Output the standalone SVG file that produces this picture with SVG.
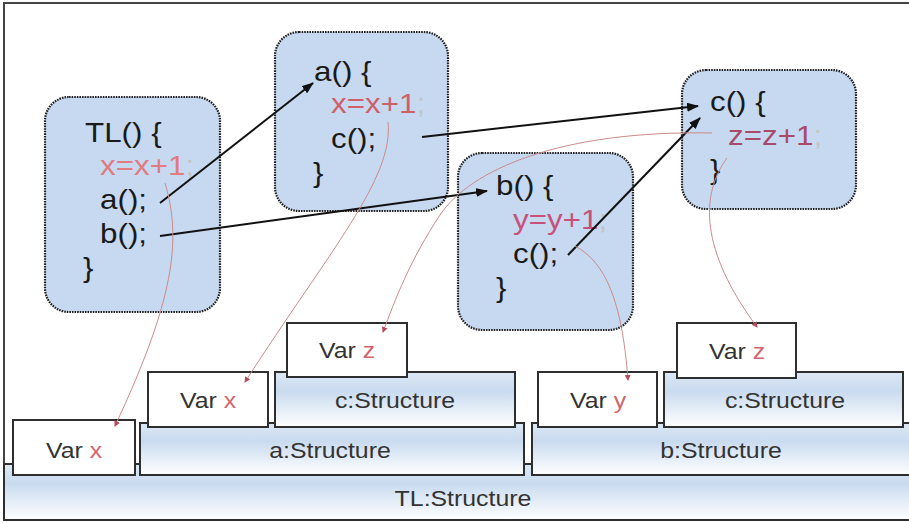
<svg xmlns="http://www.w3.org/2000/svg" width="909" height="523" viewBox="0 0 909 523">
<style>
.fn{fill:#c6d9f1;stroke:#222;stroke-width:2.2;stroke-dasharray:1.6 1}
.code{font-family:"Liberation Sans",Arial,sans-serif;font-size:28px;fill:#1a1a1a}
.red{fill:#d06068}
.semi{fill:#c4c4c4}
.lbl{font-family:"Liberation Sans",Arial,sans-serif;font-size:22px;fill:#333;text-anchor:middle}
.rv{fill:#d2646e}
.st{fill:url(#g);stroke:#2e2e2e;stroke-width:2}
.var{fill:#fff;stroke:#2e2e2e;stroke-width:2}
.blk{fill:none;stroke:#111;stroke-width:2;marker-end:url(#ab)}
.rd{fill:none;stroke:#cc8a8a;stroke-width:1;marker-end:url(#ar)}
</style>
<defs>
<linearGradient id="g" x1="0" y1="0" x2="0" y2="1">
<stop offset="0" stop-color="#dce8f5"/>
<stop offset="0.35" stop-color="#c9dbef"/>
<stop offset="1" stop-color="#ffffff"/>
</linearGradient>
<marker id="ab" markerUnits="userSpaceOnUse" markerWidth="12" markerHeight="9" refX="11" refY="4.5" orient="auto"><path d="M0,0 L12,4.5 L0,9 z" fill="#111"/></marker>
<marker id="ar" markerUnits="userSpaceOnUse" markerWidth="6" markerHeight="6" refX="5" refY="3" orient="auto"><path d="M0,0 L6,3 L0,6 z" fill="#b84a5a"/></marker>
</defs>
<rect x="0" y="0" width="909" height="523" fill="#fff"/>
<path d="M909,3 H4 V520 H909" fill="none" stroke="#444" stroke-width="2"/>

<g id="structures">
<g id="tl-structure">
<rect class="st" x="4" y="464" width="910" height="56"/>
<text class="lbl" transform="translate(463,506) scale(1.13,1)">TL:Structure</text>
</g>
<g id="tl-var-x">
<rect class="var" x="13" y="420" width="122" height="55"/>
<text class="lbl" transform="translate(74,458) scale(1.13,1)">Var <tspan class="rv">x</tspan></text>
</g>
<g id="a-structure">
<rect class="st" x="140" y="423" width="384" height="52"/>
<text class="lbl" transform="translate(330,458) scale(1.13,1)">a:Structure</text>
</g>
<g id="b-structure">
<rect class="st" x="532" y="423" width="382" height="52"/>
<text class="lbl" transform="translate(721,458) scale(1.13,1)">b:Structure</text>
</g>
<g id="a-var-x">
<rect class="var" x="148" y="372" width="120" height="55"/>
<text class="lbl" transform="translate(208,408) scale(1.13,1)">Var <tspan class="rv">x</tspan></text>
</g>
<g id="ac-structure">
<rect class="st" x="275" y="372" width="240" height="55"/>
<text class="lbl" transform="translate(395,408) scale(1.13,1)">c:Structure</text>
</g>
<g id="ac-var-z">
<rect class="var" x="287" y="323" width="120" height="54"/>
<text class="lbl" transform="translate(347,358) scale(1.13,1)">Var <tspan class="rv">z</tspan></text>
</g>
<g id="b-var-y">
<rect class="var" x="538" y="372" width="119" height="55"/>
<text class="lbl" transform="translate(598,408) scale(1.13,1)">Var <tspan class="rv">y</tspan></text>
</g>
<g id="bc-structure">
<rect class="st" x="664" y="372" width="239" height="55"/>
<text class="lbl" transform="translate(785,408) scale(1.13,1)">c:Structure</text>
</g>
<g id="bc-var-z">
<rect class="var" x="677" y="323" width="119" height="55"/>
<text class="lbl" transform="translate(737,359) scale(1.13,1)">Var <tspan class="rv">z</tspan></text>
</g>
</g>

<g id="fn-TL">
<rect class="fn" x="45" y="97" width="175" height="215" rx="24"/>
<text class="code" transform="translate(85,142) scale(1.12,1)">TL() {</text>
<text class="code" transform="translate(100,175) scale(1.12,1)"><tspan class="red" style="fill:#e07c80">x=x+1</tspan><tspan class="semi">;</tspan></text>
<text class="code" transform="translate(100,209) scale(1.12,1)">a();</text>
<text class="code" transform="translate(100,243) scale(1.12,1)">b();</text>
<text class="code" transform="translate(83,277) scale(1.12,1)">}</text>
</g>
<g id="fn-a">
<rect class="fn" x="275" y="32" width="173" height="179" rx="24"/>
<text class="code" transform="translate(314,81) scale(1.12,1)">a() {</text>
<text class="code" transform="translate(331,113) scale(1.12,1)"><tspan class="red">x=x+1</tspan><tspan class="semi">;</tspan></text>
<text class="code" transform="translate(331,148) scale(1.12,1)">c();</text>
<text class="code" transform="translate(313,182) scale(1.12,1)">}</text>
</g>
<g id="fn-b">
<rect class="fn" x="458" y="153" width="175" height="177" rx="24"/>
<text class="code" transform="translate(496,195) scale(1.12,1)">b() {</text>
<text class="code" transform="translate(513,229) scale(1.12,1)"><tspan class="red" style="fill:#c8507a">y=y+1</tspan><tspan class="semi">;</tspan></text>
<text class="code" transform="translate(513,263) scale(1.12,1)">c();</text>
<text class="code" transform="translate(496,297) scale(1.12,1)">}</text>
</g>
<g id="fn-c">
<rect class="fn" x="682" y="70" width="174" height="139" rx="24"/>
<text class="code" transform="translate(710,111) scale(1.12,1)">c() {</text>
<text class="code" transform="translate(728,145) scale(1.12,1)"><tspan class="red" style="fill:#a84a6a">z=z+1</tspan><tspan class="semi">;</tspan></text>
<text class="code" transform="translate(710,179) scale(1.12,1)">}</text>
</g>

<g id="connectors">
<path class="blk" d="M160,203 L313,83"/>
<path class="blk" d="M160,236 L487,191"/>
<path class="blk" d="M422,137 L698,106"/>
<path class="blk" d="M568,255 L700,118"/>
<path class="rd" d="M165,183 C182,240 174,300 115,426"/>
<path class="rd" d="M388,122 C394,178 330,250 245,382"/>
<path class="rd" d="M712,133 C560,130 470,170 440,215 S395,300 383,332"/>
<path class="rd" d="M575,246 C605,262 622,300 628,380"/>
<path class="rd" d="M727,158 C700,195 700,250 757,327"/>
</g>
</svg>
